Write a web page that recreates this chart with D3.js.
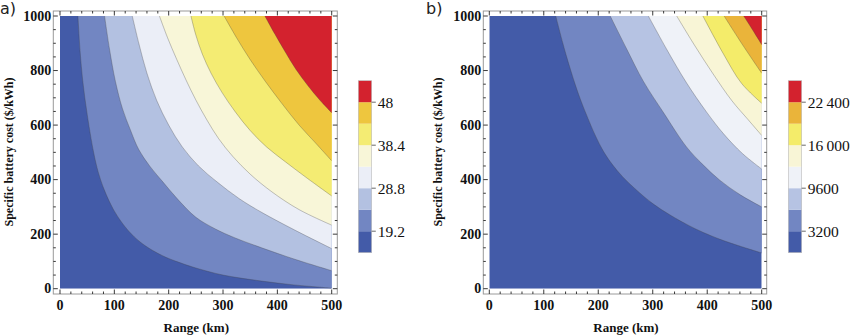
<!DOCTYPE html>
<html><head><meta charset="utf-8">
<script src="https://cdn.jsdelivr.net/npm/d3@7"></script>
<style>body{margin:0;background:#fff}svg{display:block}
.sf{font-family:"Liberation Serif","DejaVu Serif","Noto Serif",serif}
.ss{font-family:"DejaVu Sans","Liberation Sans",sans-serif}</style>
</head><body><svg id="c" width="853" height="336"></svg>
<script>
// ---- data ----
const xTicks = [0, 100, 200, 300, 400, 500];
const yTicks = [0, 200, 400, 600, 800, 1000];
const xMinor = d3.range(0, 501, 20);
const yMinor = d3.range(0, 1001, 50);

const levelsA = [19.2, 24, 28.8, 33.6, 38.4, 43.2, 48];
const levelsB = [3200, 6400, 9600, 12800, 16000, 19200, 22400];
const barLabelsA = [19.2, 28.8, 38.4, 48];
const barLabelsB = [3200, 9600, 16000, 22400];

const colorsA = ["#435ba8", "#7286c2", "#b3c1e1", "#ebeef7", "#f8f6d8", "#f4ec73", "#eec63e", "#d3222e"];
const colorsB = ["#435ba8", "#7286c2", "#b6c3e3", "#eff2f8", "#f8f5d6", "#f4ec6a", "#eab43a", "#d3222e"];

// contour lines (range km, battery cost $/kWh), one per level
const contoursA = [
  [[33,1000],[37,870],[42,760],[50,640],[61,509],[70,430],[80,370],[92,315],[106,265],[127,210],[147,172],[169,142],[195,115],[224,93],[250,76],[300,50],[371,28],[430,14],[500,2]],
  [[82,1000],[91,880],[102,760],[115,660],[130,580],[145,510],[165,450],[190,390],[218,325],[250,262],[285,220],[320,188],[371,150],[432,108],[500,66]],
  [[133,1000],[145,900],[160,790],[178,690],[200,600],[225,520],[255,450],[290,390],[330,330],[371,280],[432,215],[500,147]],
  [[183,1000],[198,920],[215,840],[232,765],[250,692],[270,620],[292,550],[318,485],[350,420],[390,355],[440,290],[500,233]],
  [[241,1000],[250,930],[262,860],[278,790],[298,720],[322,650],[350,580],[380,520],[415,465],[455,405],[500,340]],
  [[302,1000],[325,920],[350,840],[378,760],[408,680],[440,600],[470,535],[500,469]],
  [[377,1000],[395,935],[414,870],[434,805],[456,745],[478,692],[500,645]]
];
const contoursB = [
  [[122,1000],[135,900],[145,830],[157,753],[168,690],[180,630],[195,560],[210,502],[226,455],[245,410],[270,362],[300,312],[332,270],[365,233],[393,206],[425,180],[454,160],[500,131]],
  [[222,1000],[252,880],[283,760],[320,645],[362,520],[392,455],[423,398],[460,345],[500,300]],
  [[292,1000],[325,880],[362,755],[398,650],[430,568],[465,495],[500,439]],
  [[344,1000],[376,895],[410,790],[445,690],[475,620],[500,562]],
  [[392,1000],[430,860],[463,753],[500,680]],
  [[431,1000],[463,900],[500,790]],
  [[467,1000],[483,950],[500,895]]
];

const fmtB = d => d >= 10000 ? String(Math.floor(d/1000)) + "\u2009" + String(d % 1000).padStart(3, "0") : String(d);

// ---- drawing ----
const svg = d3.select("#c");

function panel(o) {
  const g = svg.append("g");
  const x = d3.scaleLinear().domain([0, 500]).range([o.x0, o.x1]);
  const y = d3.scaleLinear().domain([0, 1000]).range([288.7, 16]);
  const clipId = "clip" + o.id;
  g.append("clipPath").attr("id", clipId).append("rect")
    .attr("x", x(0)).attr("y", y(1000)).attr("width", x(500) - x(0)).attr("height", y(0) - y(1000));
  const area = g.append("g").attr("clip-path", `url(#${clipId})`);
  area.append("rect").attr("x", x(0)).attr("y", y(1000)).attr("width", x(500) - x(0))
    .attr("height", y(0) - y(1000)).attr("fill", o.colors[0]);
  const line = d3.line().x(d => x(d[0])).y(d => y(d[1])).curve(d3.curveCatmullRom.alpha(0.5));
  o.contours.forEach((c, i) => {
    const last = c[c.length - 1], first = c[0];
    area.append("path").attr("d", line(c) + `L${x(600)},${y(last[1])}L${x(600)},${y(1100)}L${x(first[0])},${y(1100)}Z`)
      .attr("fill", o.colors[i + 1]);
  });
  o.contours.forEach(c => {
    area.append("path").attr("d", line(c)).attr("fill", "none")
      .attr("stroke", "#444").attr("stroke-opacity", 0.45).attr("stroke-width", 0.7);
  });

  // frame
  const fx0 = o.f0, fx1 = o.f1, fy0 = 11, fy1 = 294;
  g.append("rect").attr("x", fx0).attr("y", fy0).attr("width", fx1 - fx0).attr("height", fy1 - fy0)
    .attr("fill", "none").attr("stroke", "#9a9a9a").attr("stroke-width", 1);
  const tk = g.append("g").attr("stroke", "#222").attr("stroke-width", 0.9);
  xMinor.forEach(v => {
    const L = xTicks.includes(v) ? 4.5 : 2.5;
    tk.append("line").attr("x1", x(v)).attr("x2", x(v)).attr("y1", fy1).attr("y2", fy1 - L);
    tk.append("line").attr("x1", x(v)).attr("x2", x(v)).attr("y1", fy0).attr("y2", fy0 + L);
  });
  yMinor.forEach(v => {
    const L = yTicks.includes(v) ? 4.5 : 2.5;
    tk.append("line").attr("y1", y(v)).attr("y2", y(v)).attr("x1", fx0).attr("x2", fx0 + L);
    tk.append("line").attr("y1", y(v)).attr("y2", y(v)).attr("x1", fx1).attr("x2", fx1 - L);
  });
  g.selectAll(".xl").data(xTicks).enter().append("text").attr("class", "sf")
    .attr("x", d => x(d)).attr("y", 310).attr("text-anchor", "middle")
    .attr("font-weight", "bold").attr("font-size", 14).attr("fill", "#111")
    .text(d => d);
  g.selectAll(".yl").data(yTicks).enter().append("text").attr("class", "sf")
    .attr("x", fx0 - 2).attr("y", d => y(d)).attr("dy", "0.34em").attr("text-anchor", "end")
    .attr("font-weight", "bold").attr("font-size", 14).attr("fill", "#111")
    .text(d => d);
  g.append("text").attr("class", "sf").attr("x", (fx0 + fx1) / 2 + 1).attr("y", 332).attr("text-anchor", "middle")
    .attr("font-weight", "bold").attr("font-size", 13).attr("fill", "#111")
    .text("Range (km)");
  g.append("text").attr("class", "sf").attr("transform", `translate(${o.ylx},152) rotate(-90)`).attr("text-anchor", "middle")
    .attr("font-weight", "bold").attr("font-size", 12).attr("fill", "#111")
    .text("Specific battery cost ($/kWh)");
  g.append("text").attr("class", "ss").attr("x", o.lx).attr("y", 14)
    .attr("font-size", 16).attr("fill", "#222").text(o.label);

  // colorbar
  const step = o.levels[1] - o.levels[0];
  const lo = o.levels[0] - step, hi = o.levels[o.levels.length - 1] + step;
  const cb = d3.scaleLinear().domain([lo, hi]).range([252.7, 80.7]);
  const edges = [lo, ...o.levels, hi];
  const cbg = g.append("g");
  d3.pairs(edges).forEach(([a, b], i) => {
    cbg.append("rect").attr("x", o.cbx).attr("y", cb(b)).attr("width", 13.4).attr("height", cb(a) - cb(b))
      .attr("fill", o.colors[i]);
  });
  cbg.append("rect").attr("x", o.cbx).attr("y", cb(hi)).attr("width", 13.4).attr("height", cb(lo) - cb(hi))
    .attr("fill", "none").attr("stroke", "#bbb").attr("stroke-width", 0.6);
  o.barLabels.forEach(v => {
    cbg.append("line").attr("x1", o.cbx + 13.4).attr("x2", o.cbx + 17.5).attr("y1", cb(v)).attr("y2", cb(v))
      .attr("stroke", "#444").attr("stroke-width", 0.8);
    cbg.append("text").attr("class", "sf").attr("x", o.cbx + 19.5).attr("y", cb(v)).attr("dy", "0.36em")
      .attr("font-size", 15.5).attr("fill", "#111").text(o.fmt(v));
  });
}

panel({id: "A", x0: 60, x1: 331.7, f0: 53.3, f1: 337.3, contours: contoursA, colors: colorsA,
  levels: levelsA, barLabels: barLabelsA, fmt: d => String(d), cbx: 358.3, ylx: 12.5, lx: 0, label: "a)"});
panel({id: "B", x0: 489.3, x1: 761.7, f0: 483.3, f1: 766.7, contours: contoursB, colors: colorsB,
  levels: levelsB, barLabels: barLabelsB, fmt: fmtB, cbx: 788.3, ylx: 442, lx: 426, label: "b)"});
</script>
</body></html>
